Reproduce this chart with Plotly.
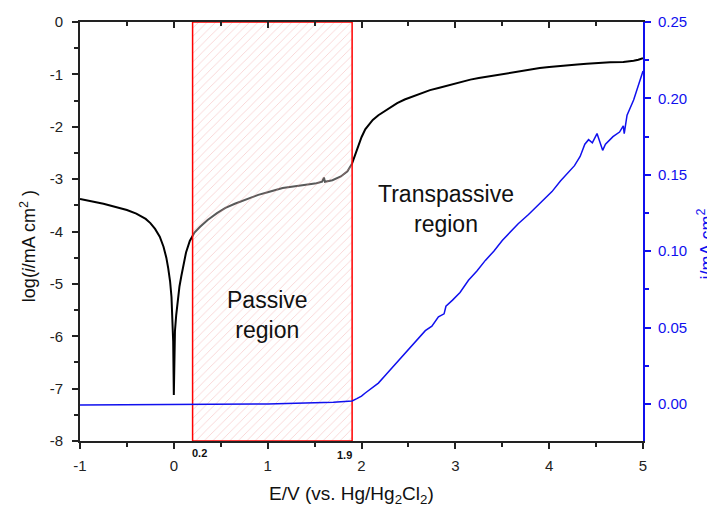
import plotly.graph_objects as go

# ---- data ----
E_log = [-1.0, -0.75, -0.5, -0.4, -0.3, -0.25, -0.2, -0.15, -0.11, -0.08, -0.06, -0.04, -0.025,
         -0.015, -0.007, 0.0, 0.004, 0.012, 0.025, 0.04, 0.06, 0.08, 0.1, 0.13, 0.17, 0.22, 0.28,
         0.36, 0.46, 0.55, 0.65, 0.81, 0.9, 1.0, 1.16, 1.35, 1.52, 1.58, 1.6, 1.61, 1.69, 1.78,
         1.85, 1.9, 1.93, 1.96, 2.0, 2.04, 2.08, 2.12, 2.18, 2.25, 2.31, 2.38, 2.46, 2.55, 2.64,
         2.73, 2.82, 2.9, 3.0, 3.08, 3.16, 3.25, 3.35, 3.44, 3.52, 3.6, 3.7, 3.8, 3.9, 4.0, 4.15,
         4.3, 4.4, 4.51, 4.65, 4.79, 4.85, 4.9, 4.95, 5.0]
log_i = [-3.38, -3.47, -3.59, -3.66, -3.76, -3.84, -3.95, -4.10, -4.29, -4.50, -4.70, -4.95, -5.25,
         -5.6, -6.1, -7.12, -6.3, -5.9, -5.6, -5.35, -5.05, -4.85, -4.65, -4.40, -4.18, -4.02,
         -3.91, -3.78, -3.65, -3.55, -3.47, -3.36, -3.30, -3.25, -3.17, -3.12, -3.08, -3.05, -2.97,
         -3.05, -3.02, -2.95, -2.85, -2.70, -2.55, -2.38, -2.20, -2.05, -1.95, -1.87, -1.78, -1.70,
         -1.62, -1.55, -1.48, -1.42, -1.36, -1.30, -1.26, -1.22, -1.17, -1.14, -1.10, -1.07, -1.04,
         -1.01, -0.985, -0.96, -0.93, -0.90, -0.88, -0.86, -0.83, -0.81, -0.795, -0.78, -0.77,
         -0.765, -0.755, -0.74, -0.72, -0.69]

E_lin = [-1.0, 0.0, 1.0, 1.7, 1.9, 1.95, 2.0, 2.04, 2.1, 2.18, 2.25, 2.33, 2.41, 2.5, 2.6, 2.68,
         2.75, 2.82, 2.88, 2.9, 2.97, 3.05, 3.14, 3.23, 3.32, 3.41, 3.5, 3.58, 3.67, 3.78, 3.88,
         3.95, 4.03, 4.12, 4.2, 4.27, 4.33, 4.38, 4.42, 4.46, 4.51, 4.55, 4.57, 4.6, 4.68, 4.75,
         4.79, 4.8, 4.83, 4.9, 4.94, 4.99, 5.0]
i_lin = [-0.0007, -0.0005, 0.0, 0.0012, 0.002, 0.0035, 0.0052, 0.0072, 0.0102, 0.0137, 0.0185,
         0.024, 0.0295, 0.035, 0.042, 0.048, 0.051, 0.057, 0.059, 0.064, 0.068, 0.073, 0.081,
         0.087, 0.094, 0.100, 0.107, 0.112, 0.118, 0.124, 0.130, 0.134, 0.139, 0.146, 0.151,
         0.156, 0.162, 0.170, 0.173, 0.171, 0.177, 0.170, 0.166, 0.170, 0.175, 0.178, 0.182,
         0.177, 0.189, 0.199, 0.206, 0.216, 0.218]

passive_region = [0.2, 1.9]
x_ticks = [-1, 0, 1, 2, 3, 4, 5]
y_ticks = [-8, -7, -6, -5, -4, -3, -2, -1, 0]
y2_ticks = [0.0, 0.05, 0.10, 0.15, 0.20, 0.25]

FONT = "Liberation Sans, Arial, sans-serif"
BLUE = "#1010ee"
DARK = "#222"

fig = go.Figure()

fig.add_trace(go.Scatter(x=E_log, y=log_i, mode="lines",
                         line=dict(color="black", width=2), showlegend=False,
                         hoverinfo="skip"))

# hatched passive region
x0, x1 = passive_region
fig.add_trace(go.Scatter(x=[x0, x0, x1, x1, x0], y=[-8, 0, 0, -8, -8], mode="lines",
                         fill="toself", line=dict(color="red", width=1.5),
                         fillcolor="rgba(255,255,255,0.35)",
                         fillpattern=dict(shape="/", fgcolor="rgba(238,140,140,0.8)",
                                          bgcolor="rgba(255,255,255,0.35)",
                                          size=6, solidity=0.14),
                         showlegend=False, hoverinfo="skip"))

fig.add_trace(go.Scatter(x=E_lin, y=i_lin, mode="lines", yaxis="y2",
                         line=dict(color=BLUE, width=1.5), showlegend=False,
                         hoverinfo="skip"))

# invisible helper trace on a thin strip subplot at the top, so that the
# top frame axis (ticks pointing down) is drawn
fig.add_trace(go.Scatter(x=[x_ticks[0]], y=[0.5], xaxis="x2", yaxis="y3",
                         mode="markers", marker=dict(opacity=0, size=1),
                         showlegend=False, hoverinfo="skip"))

axis_common = dict(showgrid=False, zeroline=False, showline=True, linewidth=2,
                   tickwidth=2, ticklen=6, automargin=False)

# page body has an 8px margin: figure is offset by 8px, so size it accordingly
fig.update_layout(
    width=707, height=500,
    margin=dict(l=72, r=72, t=14, b=67),
    paper_bgcolor="white", plot_bgcolor="rgba(0,0,0,0)",
    font=dict(family=FONT, size=15, color=DARK),
    xaxis=dict(range=[-1, 5], tickmode="array", tickvals=x_ticks,
               ticktext=[str(v) for v in x_ticks], ticks="outside", mirror=True,
               linecolor=DARK, tickcolor=DARK, ticklabelstandoff=4,
               minor=dict(tickmode="linear", tick0=0, dtick=0.5, ticks="outside",
                          ticklen=4, tickwidth=2, tickcolor=DARK),
               **axis_common),
    xaxis2=dict(range=[-1, 5], side="top", anchor="y3",
                tickmode="array", tickvals=x_ticks, ticks="inside",
                showticklabels=False, linecolor=DARK, tickcolor=DARK,
                minor=dict(tickmode="linear", tick0=0, dtick=0.5, ticks="inside",
                           ticklen=4, tickwidth=2, tickcolor=DARK),
                **axis_common),
    yaxis3=dict(domain=[0.985, 1.0], range=[0, 1], visible=False, showgrid=False,
                zeroline=False, anchor="x2"),
    yaxis=dict(range=[-8, 0], domain=[0, 1], tickmode="array", tickvals=y_ticks,
               ticktext=[str(v) for v in y_ticks], ticks="outside",
               linecolor=DARK, tickcolor=DARK, ticklabelstandoff=6,
               minor=dict(tickmode="linear", tick0=0, dtick=0.5, ticks="outside",
                          ticklen=4, tickwidth=2, tickcolor=DARK),
               **axis_common),
    yaxis2=dict(range=[-0.0242, 0.25], overlaying="y", side="right", anchor="x",
                tickmode="array", tickvals=y2_ticks,
                ticktext=[f"{v:.2f}" for v in y2_ticks], ticks="outside",
                linecolor=BLUE, tickcolor=BLUE, ticklabelstandoff=4,
                tickfont=dict(color=BLUE, size=15),
                minor=dict(tickmode="linear", tick0=0, dtick=0.025, ticks="outside",
                           ticklen=4, tickwidth=2, tickcolor=BLUE),
                **axis_common),
)

center = dict(xanchor="center", yanchor="middle", showarrow=False)
annos = [
    dict(text="log(<i>i</i>/mA cm<sup>2</sup> )", xref="paper", yref="paper",
         x=-0.0924, y=0.465, textangle=-90, font=dict(size=18, color="#111"), **center),
    dict(text="i/mA cm<sup>2</sup>", xref="paper", yref="paper",
         x=1.111, y=0.47, textangle=-90, font=dict(size=18, color=BLUE), **center),
    dict(text="E/V (vs. Hg/Hg<sub>2</sub>Cl<sub>2</sub>)", xref="paper", yref="paper",
         x=0.483, y=-0.129, font=dict(size=19, color="#111"), **center),
    dict(text="<b>0.2</b>", xref="x", yref="paper", x=x0, y=-0.0286, xanchor="left",
         yanchor="middle", xshift=-3, showarrow=False, font=dict(size=11, color="#111")),
    dict(text="<b>1.9</b>", xref="x", yref="paper", x=x1, y=-0.033, xanchor="right",
         yanchor="middle", xshift=2, showarrow=False, font=dict(size=11, color="#111")),
    dict(text="Passive<br>region", xref="x", yref="y", x=1.0, y=-5.59,
         font=dict(size=23, color="#111"), **center),
    dict(text="Transpassive<br>region", xref="x", yref="y", x=2.9, y=-3.57,
         font=dict(size=23, color="#111"), **center),
]
fig.update_layout(annotations=annos)

fig.write_html("out.html")
